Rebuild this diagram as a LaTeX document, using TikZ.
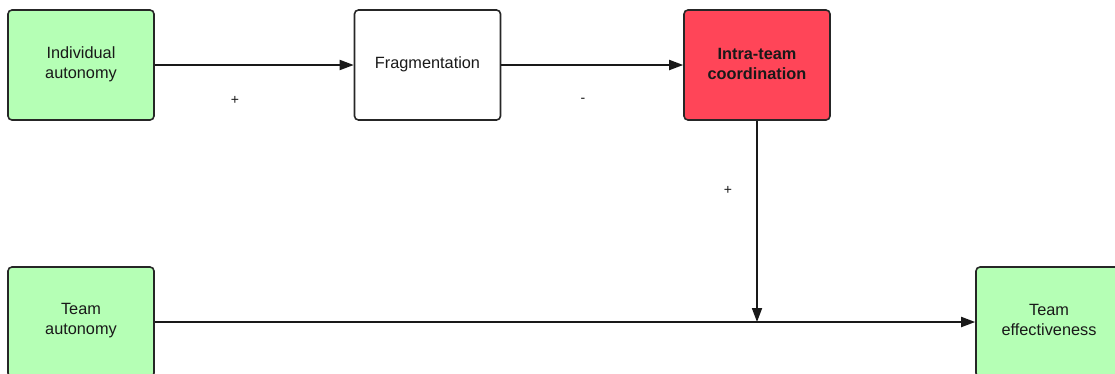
\documentclass[tikz,border=0pt]{standalone}
\usepackage{fontspec}
\setmainfont{Liberation Sans}
\usetikzlibrary{arrows.meta}
\definecolor{boxgreen}{HTML}{B5FFB5}
\definecolor{boxred}{HTML}{FF4558}
\tikzset{
  block/.style={draw=black!85, line width=1.6pt, rounded corners=4pt,
    minimum width=146pt, minimum height=110pt, inner sep=0pt},
  blocktext/.style={align=center, font=\fontsize{16.3}{20}\selectfont,
    text=black!90, inner sep=0pt},
  link/.style={draw=black!90, line width=1.8pt, -{Triangle[length=14pt,width=10pt]}},
  sign/.style={font=\fontsize{14}{16}\selectfont, text=black!90}
}
\begin{document}
\begin{tikzpicture}[x=1pt,y=-1pt]
\useasboundingbox (0,0) rectangle (1115,373);
\fill[white] (0,0) rectangle (1115,373);
\clip (0,0) rectangle (1115,373);

% model variables
\node[block, fill=boxgreen] (indiv) at (81,65) {};
\node[blocktext, yshift=0.8pt] (indivt) at (indiv.center) {Individual\\autonomy};
\node[block, fill=white] (frag) at (427.5,65) {};
\node[blocktext, yshift=0.5pt] (fragt) at (frag.center) {Fragmentation};
\node[block, fill=boxred] (coord) at (757,65) {};
\node[blocktext, yshift=0.8pt, font=\fontsize{16.3}{20}\selectfont\bfseries] (coordt) at (coord.center) {Intra-team\\coordination};
\node[block, fill=boxgreen] (teamaut) at (81,322) {};
\node[blocktext, yshift=1.8pt] (teamautt) at (teamaut.center) {Team\\autonomy};
\node[block, fill=boxgreen] (eff) at (1049,322) {};
\node[blocktext, yshift=1.8pt] (efft) at (eff.center) {Team\\effectiveness};

% moderation point on the lower path
\coordinate (join) at (757,322);

% relations
\draw[link] (indiv.east) -- (frag.west);
\draw[link] (frag.east) -- (coord.west);
\draw[link] (teamaut.east) -- (eff.west);
\draw[link] (coord.south) -- (join);

% signs of the effects
\node[sign] (s1) at (235,100) {+};
\node[sign] (s2) at (583,100) {-};
\node[sign] (s3) at (728,190) {+};
\end{tikzpicture}
\end{document}
